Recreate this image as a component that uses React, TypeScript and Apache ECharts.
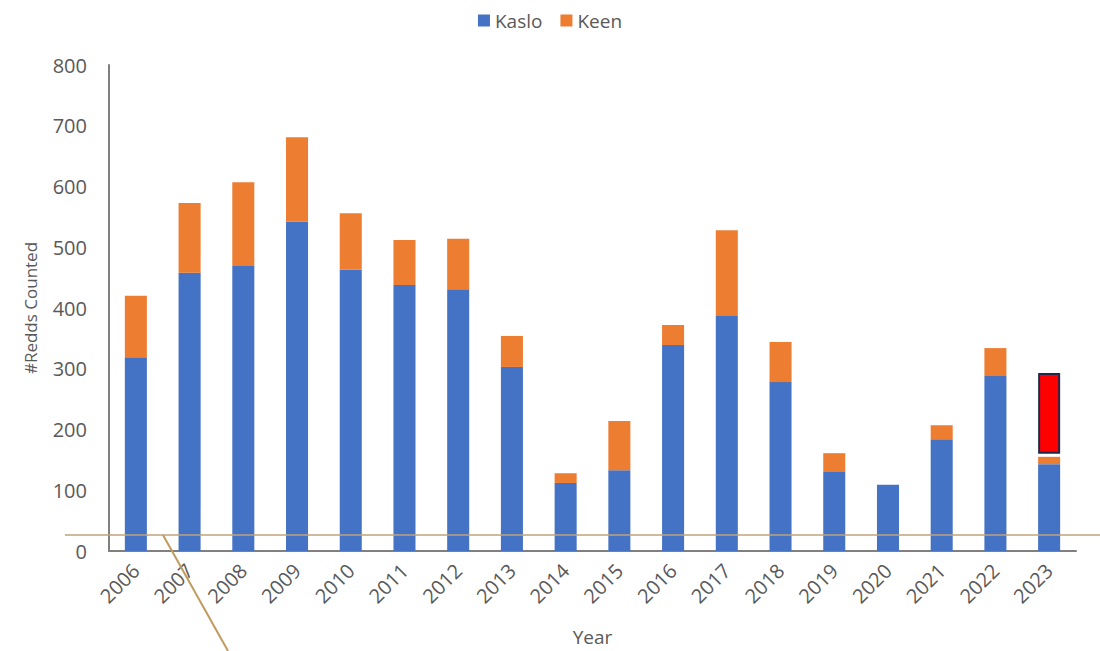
import React, { useEffect, useRef } from "react";
import * as echarts from "echarts";

const years = ["2006","2007","2008","2009","2010","2011","2012","2013","2014","2015","2016","2017","2018","2019","2020","2021","2022","2023"];
const kaslo = [319,458,469,542,463,438,431,303,112,133,339,387,278,130,109,184,288,143];
const keen = [101,115,138,139,93,74,83,51,16,81,33,141,66,31,0,23,46,12];
const gap2023 = ["-","-","-","-","-","-","-","-","-","-","-","-","-","-","-","-","-",5];
const red2023 = ["-","-","-","-","-","-","-","-","-","-","-","-","-","-","-","-","-",133];
const yTicks = { min: 0, max: 800, interval: 100 };

export default function App() {
  const ref = useRef<HTMLDivElement>(null);
  useEffect(() => {
    document.body.style.margin = "0";
    const chart = echarts.init(ref.current!, null, { renderer: "svg" });
    const font = "'Open Sans', 'Noto Sans', sans-serif";
    const grey = "#595959";
    chart.setOption({
      animation: false,
      textStyle: { fontFamily: font },
      legend: {
        data: ["Kaslo", "Keen"],
        top: 6,
        left: "center",
        itemWidth: 12,
        itemHeight: 12,
        itemGap: 18,
        icon: "rect",
        textStyle: { fontSize: 19, color: grey, fontFamily: font },
      },
      grid: { left: 109, right: 24, top: 65, bottom: 100, containLabel: false, outerBoundsMode: "none" },
      xAxis: {
        type: "category",
        data: years,
        name: "Year",
        nameLocation: "middle",
        nameGap: 76,
        nameTextStyle: { fontSize: 19, color: grey, fontFamily: font },
        axisLine: { lineStyle: { color: "#808080", width: 2 } },
        axisTick: { show: false },
        axisLabel: { rotate: 45, fontSize: 20, color: grey, margin: 16, fontFamily: font },
      },
      yAxis: {
        type: "value",
        min: yTicks.min,
        max: yTicks.max,
        interval: yTicks.interval,
        name: "#Redds Counted",
        nameLocation: "middle",
        nameGap: 70,
        nameTextStyle: { fontSize: 17, color: grey, fontFamily: font },
        axisLine: { show: true, lineStyle: { color: "#808080", width: 2 } },
        axisTick: { show: false },
        splitLine: { show: false },
        axisLabel: { fontSize: 20, color: grey, margin: 22, fontFamily: font },
      },
      series: [
        {
          name: "Kaslo",
          type: "bar",
          stack: "total",
          data: kaslo,
          barCategoryGap: "59%",
          itemStyle: { color: "#4472C4" },
        },
        {
          name: "Keen",
          type: "bar",
          stack: "total",
          data: keen,
          itemStyle: { color: "#ED7D31" },
        },
        {
          name: "gap",
          type: "bar",
          stack: "total",
          data: gap2023,
          itemStyle: { color: "transparent" },
          silent: true,
        },
        {
          name: "highlight",
          type: "bar",
          stack: "total",
          data: red2023,
          itemStyle: { color: "#FF0000", borderColor: "#1F2A4A", borderWidth: 2 },
        },
      ],
      graphic: [
        {
          type: "line",
          shape: { x1: 65, y1: 535, x2: 1100, y2: 535 },
          style: { stroke: "#BFA37A", lineWidth: 1.5 },
          z: 100,
        },
        {
          type: "line",
          shape: { x1: 163, y1: 535, x2: 228, y2: 651 },
          style: { stroke: "#BF9B5E", lineWidth: 2 },
          z: 100,
        },
      ],
    });
    return () => chart.dispose();
  }, []);
  return <div ref={ref} style={{ width: 1100, height: 651 }} />;
}
